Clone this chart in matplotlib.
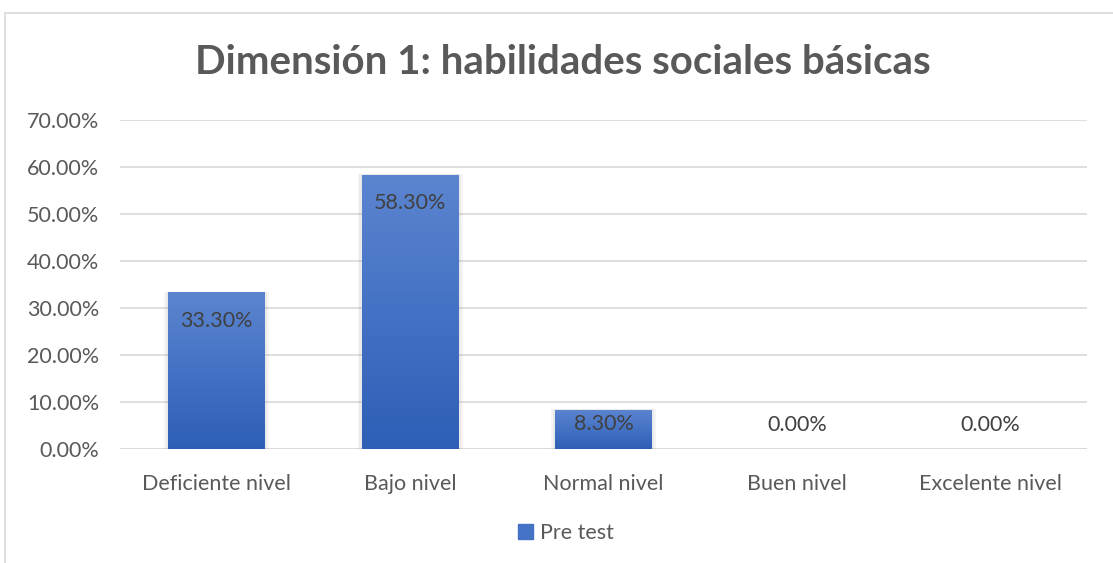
import matplotlib
matplotlib.use("Agg")
import matplotlib.pyplot as plt
import numpy as np
from matplotlib.patches import Rectangle
from matplotlib.colors import LinearSegmentedColormap

categories = ["Deficiente nivel", "Bajo nivel", "Normal nivel", "Buen nivel", "Excelente nivel"]
values = [33.3, 58.3, 8.3, 0.0, 0.0]
labels = ["33.30%", "58.30%", "8.30%", "0.00%", "0.00%"]
yticks = [0, 10, 20, 30, 40, 50, 60, 70]
series_name = "Pre test"
title = "Dimensión 1: habilidades sociales básicas"

plt.rcParams['font.family'] = ['Lato', 'DejaVu Sans']
W, H = 1113, 563
fig = plt.figure(figsize=(W/100, H/100), dpi=100)

# chart frame
fig.patches.append(Rectangle((5/W, -0.01), 1.2, 1 - 13/H + 0.01, transform=fig.transFigure,
                             fill=False, edgecolor='#d9d9d9', linewidth=1.2))

ax = fig.add_axes([120/W, 1 - 449/H, (1087-120)/W, (449-120)/H])
ax.set_xlim(-0.5, len(categories) - 0.5)
ax.set_ylim(0, 70)
ax.set_yticks(yticks)
ax.set_yticklabels([f"{t:.2f}%" for t in yticks], fontsize=15.5, color='#595959')
ax.set_xticks(range(len(categories)))
ax.set_xticklabels(categories, fontsize=15.5, color='#595959')
ax.tick_params(length=0)
ax.tick_params(axis='y', pad=15)
ax.tick_params(axis='x', pad=18)
for s in ax.spines.values():
    s.set_visible(False)
ax.grid(axis='y', color='#d9d9d9', linewidth=1.2)
ax.set_axisbelow(True)
ax.axhline(0, color='#d9d9d9', linewidth=1.2, zorder=1)

cmap = LinearSegmentedColormap.from_list('g', ['#2e5eb6', '#4472c4', '#5c85d0'])
grad = np.linspace(0, 1, 256).reshape(-1, 1)
bw = 0.5
bars = ax.bar(range(len(categories)), values, width=bw, color='#4472c4', zorder=2, label=series_name)
for i, (b, v) in enumerate(zip(bars, values)):
    if v > 0:
        for k, a in [(0.035, 0.07), (0.02, 0.09)]:
            ax.add_patch(Rectangle((i - bw/2 - k*0.6, 0), bw + 2*k*0.6, v + k*6,
                                   color='#7f7f7f', alpha=a, zorder=1.5, linewidth=0))
        im = ax.imshow(grad, extent=[i - bw/2, i + bw/2, 0, v], origin='lower', cmap=cmap,
                       aspect='auto', zorder=2.5)
        im.set_clip_path(b)
        ly = v - 6 if v > 15 else v - 3
        ax.text(i, ly, labels[i], ha='center', va='center', fontsize=15.5, color='#404040', zorder=3)
    else:
        ax.text(i, v + 5.1, labels[i], ha='center', va='center', fontsize=15.5, color='#404040', zorder=3)
ax.set_xlim(-0.5, len(categories) - 0.5)

fig.text(563/W, 1 - 62/H, title, ha='center', va='center', fontsize=29, fontweight='bold', color='#595959')

leg = fig.legend(handles=[Rectangle((0, 0), 1, 1, color='#4472c4')], labels=[series_name],
                 loc='center', bbox_to_anchor=(566/W, 1 - 533/H), frameon=False, fontsize=15.5,
                 handlelength=0.7, handleheight=0.7, handletextpad=0.3, labelcolor='#595959')

fig.savefig("out.png", dpi=100)
